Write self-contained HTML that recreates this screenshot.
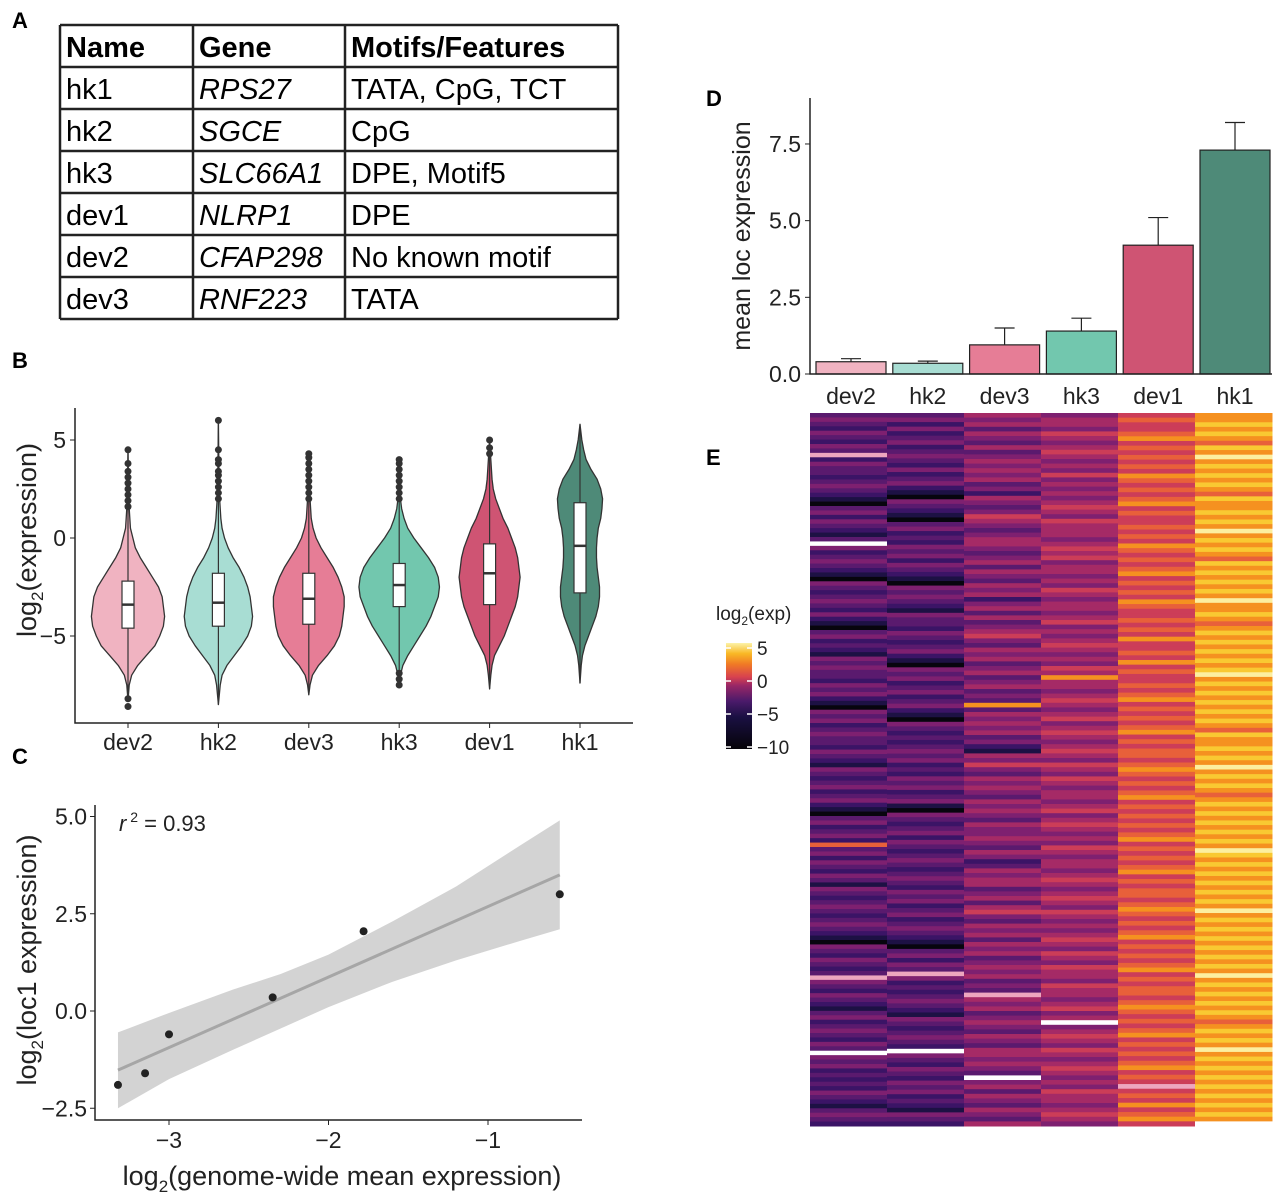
<!DOCTYPE html>
<html><head><meta charset="utf-8">
<style>
html,body{margin:0;padding:0;background:#fff;}
body{width:1280px;height:1203px;position:relative;overflow:hidden;font-family:"Liberation Sans",Arial,sans-serif;}
svg{position:absolute;left:0;top:0;}
</style></head>
<body>
<svg id="fig" width="1280" height="1203" viewBox="0 0 1280 1203" xmlns="http://www.w3.org/2000/svg" font-family="Liberation Sans, Arial, sans-serif">
  <text x="12" y="28" font-size="22" font-weight="bold">A</text>
  <text x="12" y="368" font-size="22" font-weight="bold">B</text>
  <text x="12" y="764" font-size="22" font-weight="bold">C</text>
  <text x="706" y="106" font-size="22" font-weight="bold">D</text>
  <text x="706" y="465" font-size="22" font-weight="bold">E</text>
  <g id="table"></g>
  <g id="pb"></g>
  <g id="pc"></g>
  <g id="pd"></g>
  <g id="pe"></g>
</svg>
<script>
// ---------- data ----------
const tableRows = [["hk1","RPS27","TATA, CpG, TCT"],["hk2","SGCE","CpG"],["hk3","SLC66A1","DPE, Motif5"],["dev1","NLRP1","DPE"],["dev2","CFAP298","No known motif"],["dev3","RNF223","TATA"]];
const groups = ["dev2","hk2","dev3","hk3","dev1","hk1"];
const groupColors = ["#f0b3c1","#a8ddd3","#e67d96","#72c7ae","#cf5473","#4e8a78"];
const violinY = {
 dev2:[-8.3,-7.5,-7,-6.5,-6,-5.5,-5,-4.5,-4,-3.5,-3,-2.5,-2,-1.5,-1,-0.5,0,0.5,1,1.5,2,4.5],
 hk2:[-8.5,-7.5,-7,-6.5,-6,-5.5,-5,-4.5,-4,-3.5,-3,-2.5,-2,-1.5,-1,-0.5,0,0.5,1,2,3,6],
 dev3:[-8,-7.5,-7,-6.5,-6,-5.5,-5,-4.5,-4,-3.5,-3,-2.5,-2,-1.5,-1,-0.5,0,0.5,1,2,4.4],
 hk3:[-7.6,-7,-6.5,-6,-5.5,-5,-4.5,-4,-3.5,-3,-2.5,-2,-1.5,-1,-0.5,0,0.5,1,1.5,2,4],
 dev1:[-7.7,-7,-6.5,-6,-5.5,-5,-4.5,-4,-3.5,-3,-2.5,-2,-1.5,-1,-0.5,0,0.5,1,1.5,2,2.5,3,4,5],
 hk1:[-7.4,-6.5,-6,-5.5,-5,-4.5,-4,-3.5,-3,-2.5,-2,-1.5,-1,-0.5,0,0.5,1,1.5,2,2.5,3,3.5,4,4.5,5,5.8]
};
const violinDensity = {
 dev2:[0,1,3,8,15,22,26,29,30,29,28,25,20,15,10,6,4,2,1.5,1,0.6,0],
 hk2:[0,1.5,3,7,13,19,24,27,28,27,26,24,21,17,12,8,5,3,2,1,0.5,0],
 dev3:[0,1,3,8,15,21,25,27,28,29,29,27,24,20,15,10,6,3.5,2,1,0],
 hk3:[0,1,3,7,12,17,22,26,29,32,33,32,29,24,18,12,7,4,2,1,0],
 dev1:[0,1,2,4,8,12,15,18,21,23,24,25,24,23,21,18,15,11,8,5,3,2,1,0],
 hk1:[0,1,2,4,7,10,13,15,16,16,15,14,13.5,13.5,14,15,17,18,18.5,17,14,9,5,3,1.5,0]
};
const boxQ1 = [-4.6,-4.5,-4.4,-3.5,-3.4,-2.8];
const boxMedian = [-3.4,-3.3,-3.1,-2.4,-1.8,-0.4];
const boxQ3 = [-2.2,-1.8,-1.8,-1.3,-0.3,1.8];
const outliers = {
 dev2:[1.6,1.9,2.2,2.5,2.8,3.1,3.4,3.8,4.5,-8.2,-8.6],
 hk2:[2,2.3,2.6,2.9,3.2,3.4,3.8,4,4.5,6],
 dev3:[2,2.3,2.6,2.9,3.2,3.5,3.8,4.1,4.3],
 hk3:[2,2.3,2.6,2.9,3.2,3.5,3.8,4,-6.9,-7.2,-7.5],
 dev1:[4.3,4.6,5],
 hk1:[]
};
const violinTicks = [5,0,-5];
const scatterX = [-3.32,-3.15,-3.0,-2.35,-1.78,-0.55];
const scatterY = [-1.9,-1.6,-0.6,0.35,2.05,3.0];
const bandX = [-3.32,-3.0,-2.6,-2.3,-2.0,-1.6,-1.2,-0.8,-0.55];
const bandLo = [-2.5,-1.75,-1.0,-0.45,0.1,0.75,1.3,1.8,2.1];
const bandHi = [-0.55,-0.05,0.55,0.95,1.45,2.3,3.2,4.25,4.9];
const fitLine = [[-3.32,-1.52],[-0.55,3.5]];
const scatterXTicks = [-3,-2,-1];
const scatterYTicks = [5.0,2.5,0.0,-2.5];
const barMeans = [0.4,0.35,0.95,1.4,4.2,7.3];
const barErr = [0.5,0.42,1.5,1.82,5.1,8.2];
const barTicks = [0.0,2.5,5.0,7.5];
const heatCols = [
 "343243243p2433234321034243213w4234321043234324210342321434332434210434234332432143234234210342342734243243143234323432104324323p4324321342343243w4342323243213432",
 "342423423432423421043210342324342432104343214332432342104342342342104323234342324342341043234243234323432434234234321034243p4232343214323432w4324324342321432",
 "545354353454545342543465434554345354354524535345643545345345343835454534215464354543545435445435423545534535643545354534545343p54534543543554543w4535435435",
 "455465456545464545456546555456564554546545545645456545465855456545645654565465465455456456545465455456545654654545654654655465545645w4565465456545465545654",
 "676678676767687676786766767687676786767687667676866768676676786767678676776787676786767676786767678676776787676786767678676776787676786767678676p67686786",
 "889898798a898989879889898a89898798989898a889878989898989a8989898989879889898a89898789898989898a989898989898a8989898989898a898989898789898a898989898989898w"
];
const heatPalette = {"0":"#07050e","1":"#1d1144","2":"#3b1466","3":"#5a1a6e","4":"#7e2070","5":"#a52a66","6":"#cc3d58","7":"#e8603a","8":"#f59120","9":"#f9c932","a":"#fcefa0","w":"#ffffff","p":"#eda6bf"};
const cbarTicks = [5,0,-5,-10];

// ---------- helpers ----------
const NS="http://www.w3.org/2000/svg";
function mk(parent,tag,attrs,text){const e=document.createElementNS(NS,tag);for(const k in attrs)e.setAttribute(k,attrs[k]);if(text!==undefined)e.textContent=text;parent.appendChild(e);return e;}

// ---------- A: table ----------
(function(){
 const g=document.getElementById('table');
 const colX=[60,193,345,618]; const rowY=[25,67,109,151,193,235,277,319];
 const hdr=["Name","Gene","Motifs/Features"];
 hdr.forEach((h,i)=>{const t=mk(g,'text',{x:colX[i]+6,y:rowY[1]-10,'font-size':29,'font-weight':'bold'},h);
  
  });
 tableRows.forEach((r,ri)=>{r.forEach((c,ci)=>{const at={x:colX[ci]+6,y:rowY[ri+2]-10,'font-size':29};if(ci==1)at['font-style']='italic';
  const t=mk(g,'text',at,c);
  
  });});
 rowY.forEach(y=>{const l=mk(g,'line',{x1:60,x2:618,y1:y,y2:y,stroke:'#222','stroke-width':2.5});
  
  });
 colX.forEach(x=>{const l=mk(g,'line',{x1:x,x2:x,y1:25,y2:319,stroke:'#222','stroke-width':2.5});
  
  });
})();

// ---------- B: violins ----------
(function(){
 const g=document.getElementById('pb');
 const y0=538, k=19.6, wScale=1.22;
 const Y=v=>y0-v*k;
 const X=i=>128+i*90.4;
 const ax=mk(g,'path',{d:'M75,408 V723 H633',fill:'none',stroke:'#222','stroke-width':1.5});
 
 
 violinTicks.forEach(t=>{const l=mk(g,'line',{x1:70,x2:75,y1:Y(t),y2:Y(t),stroke:'#222'});
  
  
  const tx=mk(g,'text',{x:66,y:Y(t)+8,'font-size':23,'text-anchor':'end',fill:'#222'},t<0?'\u2212'+(-t):String(t));
  
  });
 const yt=mk(g,'text',{transform:'translate(36,540) rotate(-90)','font-size':27,'text-anchor':'middle',fill:'#222'});
 
 
 yt.innerHTML='log<tspan font-size="17" dy="7">2</tspan><tspan dy="-7">(expression)</tspan>';
 groups.forEach((gr,i)=>{
  const cx=X(i), ys=violinY[gr], ws=violinDensity[gr];
  let d='M'+cx+','+Y(ys[0]);
  for(let j=0;j<ys.length;j++)d+=' L'+(cx+ws[j]*wScale)+','+Y(ys[j]);
  for(let j=ys.length-1;j>=0;j--)d+=' L'+(cx-ws[j]*wScale)+','+Y(ys[j]);
  const v=mk(g,'path',{d:d+'Z',fill:groupColors[i],stroke:'#333','stroke-width':1.3,'stroke-linejoin':'round'});
  
  
  const wl=mk(g,'line',{x1:cx,x2:cx,y1:Y(ys[0]),y2:Y(ys[ys.length-1]),stroke:'#333','stroke-width':1.2});
  
  
  const b=mk(g,'rect',{x:cx-6,y:Y(boxQ3[i]),width:12,height:Y(boxQ1[i])-Y(boxQ3[i]),fill:'#fff',stroke:'#333','stroke-width':1.2});
  
  
  const m=mk(g,'line',{x1:cx-6,x2:cx+6,y1:Y(boxMedian[i]),y2:Y(boxMedian[i]),stroke:'#333','stroke-width':2.5});
  
  
  outliers[gr].forEach(o=>{const c=mk(g,'circle',{cx:cx,cy:Y(o),r:3.5,fill:'#333'});
   
   });
  const xl=mk(g,'line',{x1:cx,x2:cx,y1:723,y2:728,stroke:'#222'});
  
  
  const tl=mk(g,'text',{x:cx,y:750,'font-size':23,'text-anchor':'middle',fill:'#222'},gr);
  
  
 });
})();

// ---------- C: scatter ----------
(function(){
 const g=document.getElementById('pc');
 const X=v=>169+(v+3)*159.5, Y=v=>1011-v*38.9;
 const ax=mk(g,'path',{d:'M95,805 V1120 H582',fill:'none',stroke:'#222','stroke-width':1.5});
 
 
 let d='';bandX.forEach((x,i)=>d+=(i?' L':'M')+X(x)+','+Y(bandHi[i]));
 for(let i=bandX.length-1;i>=0;i--)d+=' L'+X(bandX[i])+','+Y(bandLo[i]);
 const band=mk(g,'path',{d:d+'Z',fill:'#d3d3d3'});
 
 
 const fl=mk(g,'line',{x1:X(fitLine[0][0]),y1:Y(fitLine[0][1]),x2:X(fitLine[1][0]),y2:Y(fitLine[1][1]),stroke:'#a6a6a6','stroke-width':3});
 
 
 scatterX.forEach((x,i)=>{const c=mk(g,'circle',{cx:X(x),cy:Y(scatterY[i]),r:4,fill:'#222'});
  
  });
 scatterYTicks.forEach(t=>{const l=mk(g,'line',{x1:90,x2:95,y1:Y(t),y2:Y(t),stroke:'#222'});
  
  
  const s=(t<0?'\u2212':'')+Math.abs(t).toFixed(1);
  const tx=mk(g,'text',{x:87,y:Y(t)+8,'font-size':23,'text-anchor':'end',fill:'#222'},s);
  
  });
 scatterXTicks.forEach(t=>{const l=mk(g,'line',{x1:X(t),x2:X(t),y1:1120,y2:1125,stroke:'#222'});
  
  
  const tx=mk(g,'text',{x:X(t),y:1148,'font-size':23,'text-anchor':'middle',fill:'#222'},'\u2212'+(-t));
  
  });
 const r2=mk(g,'text',{x:119,y:831,'font-size':22,fill:'#222'});
 
 
 r2.innerHTML='<tspan font-style="italic">r</tspan><tspan font-size="14" dy="-9"> 2</tspan><tspan dy="9"> = 0.93</tspan>';
 const yt=mk(g,'text',{transform:'translate(36,960) rotate(-90)','font-size':27,'text-anchor':'middle',fill:'#222'});
 
 
 yt.innerHTML='log<tspan font-size="17" dy="7">2</tspan><tspan dy="-7">(loc1 expression)</tspan>';
 const xt=mk(g,'text',{x:342,y:1185,'font-size':27,'text-anchor':'middle',fill:'#222'});
 
 
 xt.innerHTML='log<tspan font-size="17" dy="7">2</tspan><tspan dy="-7">(genome-wide mean expression)</tspan>';
})();

// ---------- D: bars ----------
(function(){
 const g=document.getElementById('pd');
 const Y=v=>374-v*30.67, X=i=>851+i*76.8;
 barMeans.forEach((m,i)=>{
  const cx=X(i);
  const el=mk(g,'path',{d:`M${cx},${Y(m)} V${Y(barErr[i])} M${cx-10},${Y(barErr[i])} H${cx+10}`,stroke:'#222','stroke-width':1.2,fill:'none'});
  
  
  const r=mk(g,'rect',{x:cx-35,y:Y(m),width:70,height:374-Y(m),fill:groupColors[i],stroke:'#222','stroke-width':1.2});
  
  
  const tl=mk(g,'text',{x:cx,y:404,'font-size':23,'text-anchor':'middle',fill:'#222'},groups[i]);
  
  
 });
 const ax=mk(g,'path',{d:'M810,98 V374 H1272',fill:'none',stroke:'#222','stroke-width':1.5});
 
 
 barTicks.forEach(t=>{const l=mk(g,'line',{x1:805,x2:810,y1:Y(t),y2:Y(t),stroke:'#222'});
  
  
  const tx=mk(g,'text',{x:801,y:Y(t)+8,'font-size':23,'text-anchor':'end',fill:'#222'},t.toFixed(1));
  
  });
 const yt=mk(g,'text',{transform:'translate(750,236) rotate(-90)','font-size':25,'text-anchor':'middle',fill:'#222'},'mean loc expression');
 
 
})();

// ---------- E: heatmap ----------
(function(){
 const g=document.getElementById('pe');
 const x0=810,x1=1272,y0=413,y1=1126,cw=(x1-x0)/heatCols.length;
 heatCols.forEach((col,ci)=>{
  const rh=(y1-y0)/col.length;
  for(let r=0;r<col.length;r++){
   const c=mk(g,'rect',{x:x0+ci*cw,y:y0+r*rh,width:cw+0.5,height:rh+0.5,fill:heatPalette[col[r]]});
   
   
  }
 });
 const defs=mk(g,'defs',{});
 const lg=mk(defs,'linearGradient',{id:'inferno',x1:0,y1:1,x2:0,y2:0});
 [["0","#050308"],["0.3","#1a1042"],["0.45","#4a1a6a"],["0.6","#9a2766"],["0.68","#d8424f"],["0.8","#f07a25"],["0.9","#f9b825"],["1","#fcf3a8"]].forEach(s=>mk(lg,'stop',{offset:s[0],'stop-color':s[1]}));
 const cb=mk(g,'rect',{x:726,y:643,width:26,height:106,fill:'url(#inferno)'});
 
 
 const CY=v=>747-(v+10)*6.6;
 cbarTicks.forEach(t=>{
  const l=mk(g,'path',{d:`M726,${CY(t)} h5 M747,${CY(t)} h5`,stroke:'#fff','stroke-width':1.5});
  
  
  const tx=mk(g,'text',{x:757,y:CY(t)+7,'font-size':19,fill:'#222'},t<0?'\u2212'+(-t):String(t));
  
  
 });
 const tt=mk(g,'text',{x:716,y:620,'font-size':19,fill:'#222'});
 
 
 tt.innerHTML='log<tspan font-size="12" dy="5">2</tspan><tspan dy="-5">(exp)</tspan>';
})();
</script>
</body></html>
